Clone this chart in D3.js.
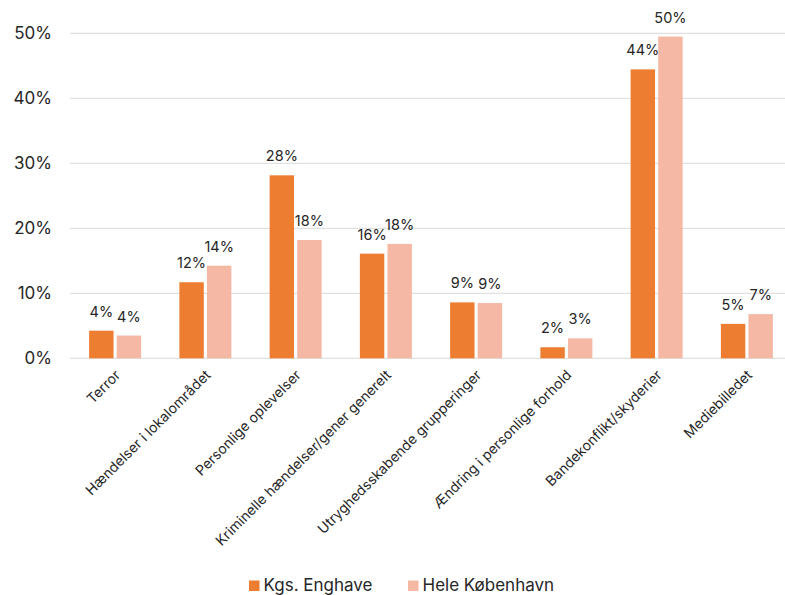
<!DOCTYPE html>
<html><head><meta charset="utf-8">
<script src="https://cdn.jsdelivr.net/npm/d3@7"></script>
<style>body{margin:0;background:#fff}svg{display:block;font-family:Inter,"Noto Sans",sans-serif}</style>
</head><body><div id="chart"></div>
<script>
const categories = ["Terror","Hændelser i lokalområdet","Personlige oplevelser","Kriminelle hændelser/gener generelt","Utryghedsskabende grupperinger","Ændring i personlige forhold","Bandekonflikt/skyderier","Mediebilledet"];
const seriesNames = ["Kgs. Enghave","Hele København"];
const kgsEnghave = [4.25, 11.7, 28.15, 16.1, 8.6, 1.7, 44.45, 5.3];
const heleKbh = [3.5, 14.25, 18.2, 17.6, 8.5, 3.07, 49.5, 6.8];
const colors = ["#ED7D31","#F4B8A4"];
const yTicks = [0,10,20,30,40,50];

const W=785,H=595;
const m={left:70,right:-7,top:33.3,bottom:236.7};
const svg=d3.select("#chart").append("svg").attr("width",W).attr("height",H);
const x=d3.scaleBand().domain(categories).range([m.left,W-m.right]).paddingInner(0).paddingOuter(0);
const y=d3.scaleLinear().domain([0,50]).range([H-m.bottom,m.top]);
const xs=d3.scaleBand().domain(seriesNames).range([0,52]).paddingInner(0.115);

// gridlines
svg.append("g").selectAll("line").data(yTicks).join("line")
 .attr("x1",m.left).attr("x2",W-m.right).attr("y1",d=>y(d)).attr("y2",d=>y(d))
 .attr("stroke","#D9D9D9").attr("stroke-width",1);

// y axis labels
const yAxis=d3.axisLeft(y).tickValues(yTicks).tickFormat(d=>d+"%").tickSize(0).tickPadding(18);
const ga=svg.append("g").attr("transform",`translate(${m.left},0)`).call(yAxis);
ga.select(".domain").remove();
ga.selectAll("text").attr("font-size",17).attr("fill","#262626").attr("font-family","Inter,sans-serif");

const data=categories.map((c,i)=>({c,vals:[kgsEnghave[i],heleKbh[i]]}));
const groups=svg.append("g").selectAll("g").data(data).join("g")
 .attr("transform",d=>`translate(${x(d.c)+(x.bandwidth()-52)/2},0)`);
groups.selectAll("rect").data(d=>d.vals.map((v,j)=>({v,s:seriesNames[j],j}))).join("rect")
 .attr("x",d=>xs(d.s)).attr("width",xs.bandwidth())
 .attr("y",d=>y(d.v)).attr("height",d=>y(0)-y(d.v))
 .attr("fill",d=>colors[d.j]);
groups.selectAll("text").data(d=>d.vals.map((v,j)=>({v,s:seriesNames[j],j}))).join("text")
 .attr("x",d=>xs(d.s)+xs.bandwidth()/2).attr("y",d=>y(d.v)-14)
 .attr("text-anchor","middle").attr("font-size",14.5).attr("fill","#262626")
 .text(d=>Math.round(d.v)+"%");

// x labels
svg.append("g").selectAll("text").data(categories).join("text")
 .attr("transform",d=>`translate(${x(d)+x.bandwidth()/2-1},369) rotate(-45)`)
 .attr("text-anchor","end").attr("dy","0.71em").attr("font-size",14).attr("fill","#262626")
 .text(d=>d);

// legend
const leg=svg.append("g");
const legX=[249,408];
seriesNames.forEach((s,i)=>{
 leg.append("rect").attr("x",legX[i]).attr("y",580.5).attr("width",10.5).attr("height",10.5).attr("fill",colors[i]);
 leg.append("text").attr("x",legX[i]+14.5).attr("y",591).attr("font-size",17).attr("fill","#262626").text(s);
});
</script></body></html>
